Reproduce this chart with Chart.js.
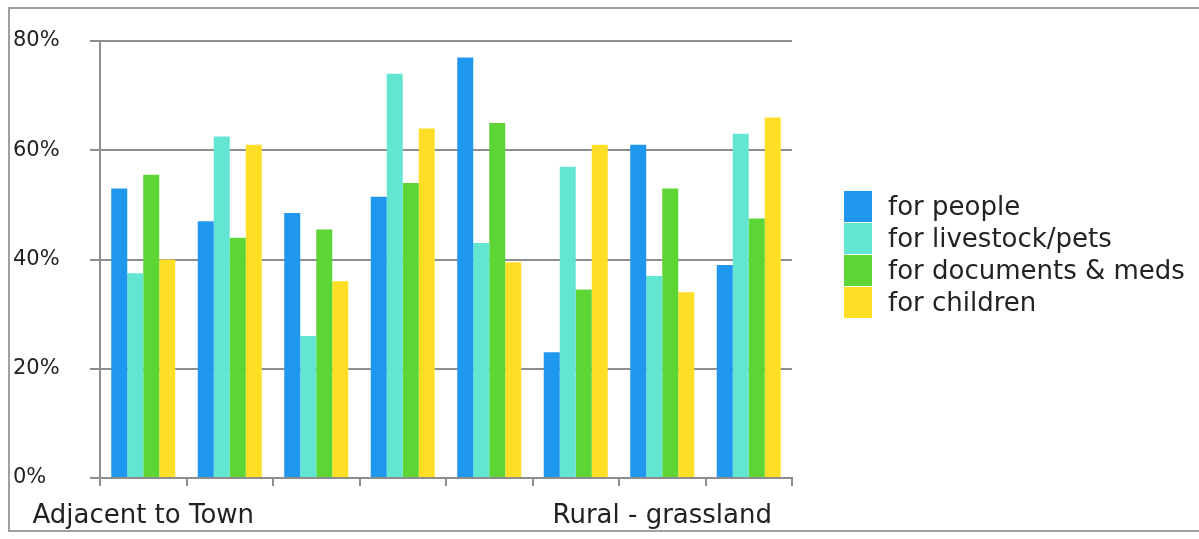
<!DOCTYPE html>
<html>
<head>
<meta charset="utf-8">
<title>Bars by area</title>
<script src="https://cdn.jsdelivr.net/npm/chart.js@4.4.0/dist/chart.umd.min.js"></script>
<style>
  html, body { margin: 0; padding: 0; background: #fff; }
  #wrap { position: relative; width: 1199px; height: 539px; overflow: hidden; font-family: "DejaVu Sans", sans-serif; }
  #frame { position: absolute; left: 8px; top: 7px; width: 1200px; height: 521px; border: 2px solid #a0a0a0; border-right: none; }
  #chart { position: absolute; left: 0; top: 0; }
  #legend { position: absolute; left: 844px; top: 190px; }
  .item { display: flex; align-items: center; height: 32px; color: #222; font-size: 26px; white-space: nowrap; }
  .box { width: 28px; height: 31px; margin-right: 16px; }
</style>
</head>
<body>
<div id="wrap">
  <div id="frame"></div>
  <canvas id="chart" width="1199" height="539"></canvas>
  <div id="legend"></div>
</div>
<script>
// categories (only two are labelled on the axis)
const categories = ['Adjacent to Town', '', '', '', '', '', 'Rural - grassland', ''];

const seriesNames = ['for people', 'for livestock/pets', 'for documents & meds', 'for children'];

// values in percent
const forPeople    = [53,   47,   48.5, 51.5, 77,   23,   61, 39];
const forLivestock = [37.5, 62.5, 26,   74,   43,   57,   37, 63];
const forDocuments = [55.5, 44,   45.5, 54,   65,   34.5, 53, 47.5];
const forChildren  = [40,   61,   36,   64,   39.5, 61,   34, 66];

const yTicks = [0, 20, 40, 60, 80];

const seriesColors = ['#1f97ef', '#63e6d1', '#5cd535', '#ffdf26'];

const GRID = '#8e8e8e';

function buildLegend() {
  const el = document.getElementById('legend');
  el.innerHTML = seriesNames.map((name, i) => `
    <div class="item"><span class="box" style="background:${seriesColors[i]}"></span>${name.replace('&', '&amp;')}</div>
  `).join('');
}

function draw() {
  const values = [forPeople, forLivestock, forDocuments, forChildren];

  new Chart(document.getElementById('chart'), {
    type: 'bar',
    data: {
      labels: categories,
      datasets: values.map((data, i) => ({
        label: seriesNames[i],
        data,
        backgroundColor: seriesColors[i],
        borderWidth: 0,
        barPercentage: 1,
        categoryPercentage: 0.74
      }))
    },
    options: {
      responsive: false,
      animation: false,
      layout: { padding: { left: 13, right: 407, top: 41, bottom: 0 } },
      plugins: {
        legend: { display: false },
        tooltip: { enabled: false }
      },
      scales: {
        x: {
          afterFit: (s) => { s.height = 61; },
          grid: {
            offset: true,
            drawOnChartArea: false,
            drawTicks: true,
            tickLength: 8,
            color: GRID,
            lineWidth: 2
          },
          border: { color: GRID, width: 2 },
          ticks: {
            autoSkip: false,
            maxRotation: 0,
            padding: 15,
            color: '#222',
            font: { family: 'DejaVu Sans', size: 26 }
          }
        },
        y: {
          min: yTicks[0],
          max: yTicks[yTicks.length - 1],
          afterFit: (s) => { s.width = 87; },
          afterBuildTicks: (s) => { s.ticks = yTicks.map(v => ({ value: v })); },
          grid: { color: GRID, lineWidth: 2, tickLength: 10 },
          border: { color: GRID, width: 2 },
          ticks: {
            crossAlign: 'far',
            color: '#222',
            font: { family: 'DejaVu Sans', size: 21 },
            callback: (v) => v + '%'
          }
        }
      }
    }
  });
}

buildLegend();
draw();
</script>
</body>
</html>
